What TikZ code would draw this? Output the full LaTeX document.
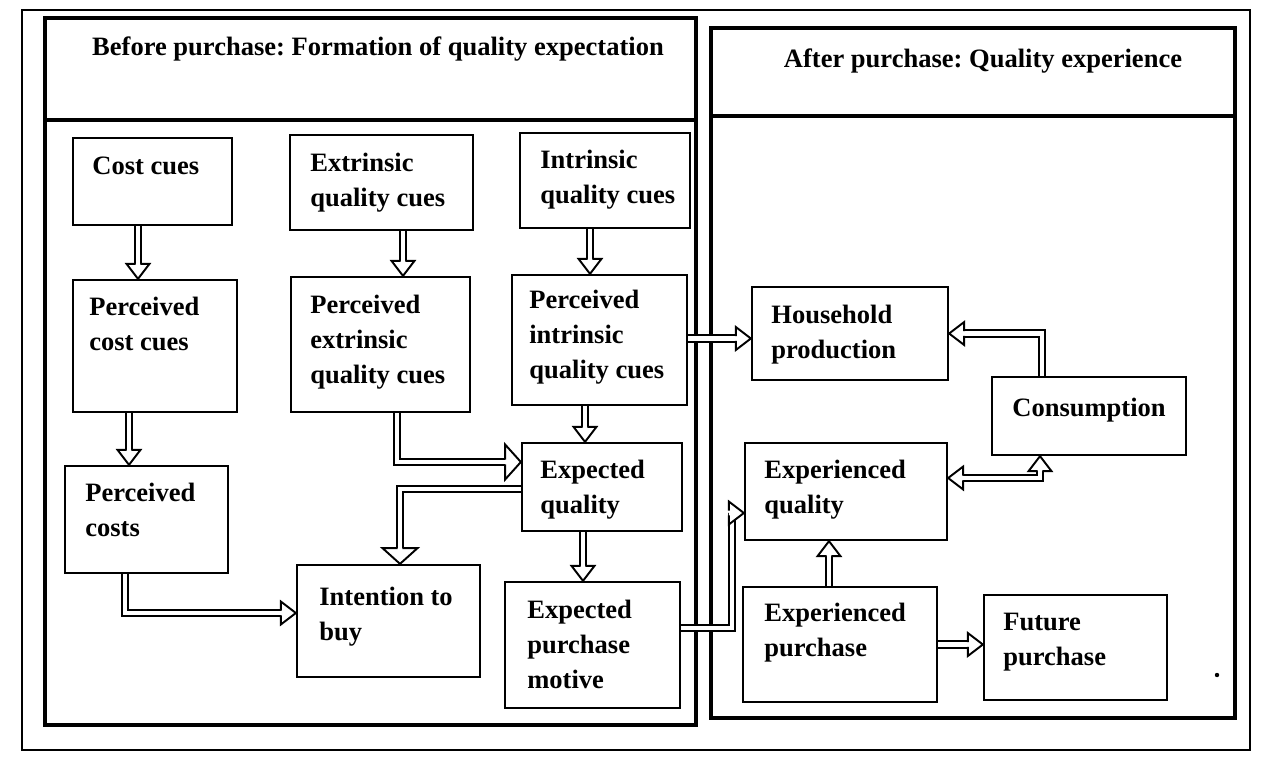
\documentclass[tikz,border=0pt]{standalone}
\usepackage{fontspec}
\setmainfont{Liberation Serif}
\usetikzlibrary{fit,decorations.markings}
\newcommand\myhead[2]{%
  \fill[white] (0pt,0pt) -- (#1,#2) -- (#1,-#2) -- cycle;
  \draw[black, line width=1.1pt, shorten >=0pt, shorten <=0pt, line join=miter]
    (#1,1.3pt) -- (#1,#2) -- (0pt,0pt) -- (#1,-#2) -- (#1,-1.3pt);}
\frenchspacing
\begin{document}
\begin{tikzpicture}[x=0.02cm, y=-0.02cm,
  frame/.style={draw=black, line width=1.5pt},
  panel/.style={draw=black, line width=1.8pt},
  box/.style={draw=black, line width=1.3pt, inner sep=0pt},
  txt/.style={anchor=north west, align=left, inner sep=0pt, font=\fontsize{15.1}{19.9}\selectfont\bfseries},
  ttl/.style={inner sep=0pt, font=\fontsize{15.1}{19.9}\selectfont\bfseries},
  harrowg/.style 2 args={
    preaction={draw=black, line width=5pt, shorten >=#1},
    draw=white, line width=2.6pt, shorten >=#1,
    postaction={decorate, decoration={markings, mark=at position 1 with {\myhead{-#1}{#2}}}}},
  harrow/.style={harrowg={8.5pt}{6.5pt}},
  bigharrow/.style={harrowg={9pt}{10pt}},
  harrowboth/.style={
    preaction={draw=black, line width=5pt, shorten >=8.5pt, shorten <=8.5pt},
    draw=white, line width=2.6pt, shorten >=8.5pt, shorten <=8.5pt,
    postaction={decorate, decoration={markings,
      mark=at position 0 with {\myhead{8.5pt}{6.5pt}},
      mark=at position 1 with {\myhead{-8.5pt}{6.5pt}}}}}
]
\fill[white] (0,0) rectangle (1266,758);
\useasboundingbox (0,0) rectangle (1266,758);

% frames
\draw[frame] (22,10) rectangle (1250,750);
\draw[panel] (45,18) rectangle (696,725);
\draw[panel] (45,120) -- (696,120);
\draw[panel] (711,28) rectangle (1235,718);
\draw[panel] (711,116) -- (1235,116);

% titles
\node[ttl] (ttlbefore) at (378,49) {Before purchase: Formation of quality expectation};
\node[ttl] (ttlafter) at (983,61) {After purchase: Quality experience};

% boxes
\node[box, fit={(73,138)(232,225)}] (costcues) {};
\node[box, fit={(290,135)(473,230)}] (extr) {};
\node[box, fit={(520,133)(690,228)}] (intr) {};
\node[box, fit={(73,280)(237,412)}] (pcost) {};
\node[box, fit={(291,277)(470,412)}] (pextr) {};
\node[box, fit={(512,275)(687,405)}] (pintr) {};
\node[box, fit={(65,466)(228,573)}] (pcosts) {};
\node[box, fit={(522,443)(682,531)}] (expq) {};
\node[box, fit={(297,565)(480,677)}] (intent) {};
\node[box, fit={(505,582)(680,708)}] (epm) {};
\node[box, fit={(752,287)(948,380)}] (household) {};
\node[box, fit={(992,377)(1186,455)}] (consumption) {};
\node[box, fit={(745,443)(947,540)}] (expqual) {};
\node[box, fit={(743,587)(937,702)}] (exppur) {};
\node[box, fit={(984,595)(1167,700)}] (future) {};

% texts
\node[txt] (tcostcues) at (92,157) {Cost cues};
\node[txt] (textr) at (310,153) {Extrinsic\\quality cues};
\node[txt] (tintr) at (540,150) {Intrinsic\\quality cues};
\node[txt] (tpcost) at (89,297) {Perceived\\cost cues};
\node[txt] (tpextr) at (310,295) {Perceived\\extrinsic\\quality cues};
\node[txt] (tpintr) at (529,290) {Perceived\\intrinsic\\quality cues};
\node[txt] (tpcosts) at (85,483) {Perceived\\costs};
\node[txt] (texpq) at (540,460) {Expected\\quality};
\node[txt] (tintent) at (319,587) {Intention to\\buy};
\node[txt] (tepm) at (527,600) {Expected\\purchase\\motive};
\node[txt] (thousehold) at (771,305) {Household\\production};
\node[txt] (tconsumption) at (1012,398) {Consumption};
\node[txt] (texpqual) at (764,460) {Experienced\\quality};
\node[txt] (texppur) at (764,603) {Experienced\\purchase};
\node[txt] (tfuture) at (1003,613) {Future\\purchase};

% connectors
\coordinate (c10) at (732,570);
\draw[harrow] ([xshift=-0.29cm]costcues.south) -- ([xshift=-0.29cm]costcues.south |- pcost.north);
\draw[harrow] ([xshift=0.43cm]extr.south) -- ([xshift=0.43cm]extr.south |- pextr.north);
\draw[harrow] ([xshift=-0.30cm]intr.south) -- ([xshift=-0.30cm]intr.south |- pintr.north);
\draw[harrow] ([xshift=-0.52cm]pcost.south) -- ([xshift=-0.52cm]pcost.south |- pcosts.north);
\draw[bigharrow] ([xshift=0.33cm]pextr.south) |- ([yshift=0.5cm]expq.west);
\draw[harrow] ([xshift=-0.29cm]pintr.south) -- ([xshift=-0.29cm]pintr.south |- expq.north);
\draw[bigharrow] ([yshift=-0.04cm]expq.west) -| ([xshift=0.23cm]intent.north);
\draw[harrow] ([xshift=-0.43cm]pcosts.south) |- ([yshift=0.16cm]intent.west);
\draw[harrow] ([xshift=-0.38cm]expq.south) -- ([xshift=-0.38cm]expq.south |- epm.north);
\draw[harrow] ([yshift=0.34cm]epm.east) -| (c10) |- ([yshift=-0.43cm]expqual.west);
\draw[harrow] ([yshift=-0.1cm]household.west -| pintr.east) -- ([yshift=-0.1cm]household.west);
\draw[harrow] ([xshift=-0.94cm]consumption.north) |- (household.east);
\draw[harrowboth] ([yshift=0.27cm]expqual.east) -| ([xshift=-0.98cm]consumption.south);
\draw[harrow] ([xshift=-0.22cm]exppur.north) -- ([xshift=-0.22cm]exppur.north |- expqual.south);
\draw[harrow] (exppur.east) -- (exppur.east -| future.west);

% scan speck
\fill[black] (1217,675) circle (2.2);
\end{tikzpicture}
\end{document}
